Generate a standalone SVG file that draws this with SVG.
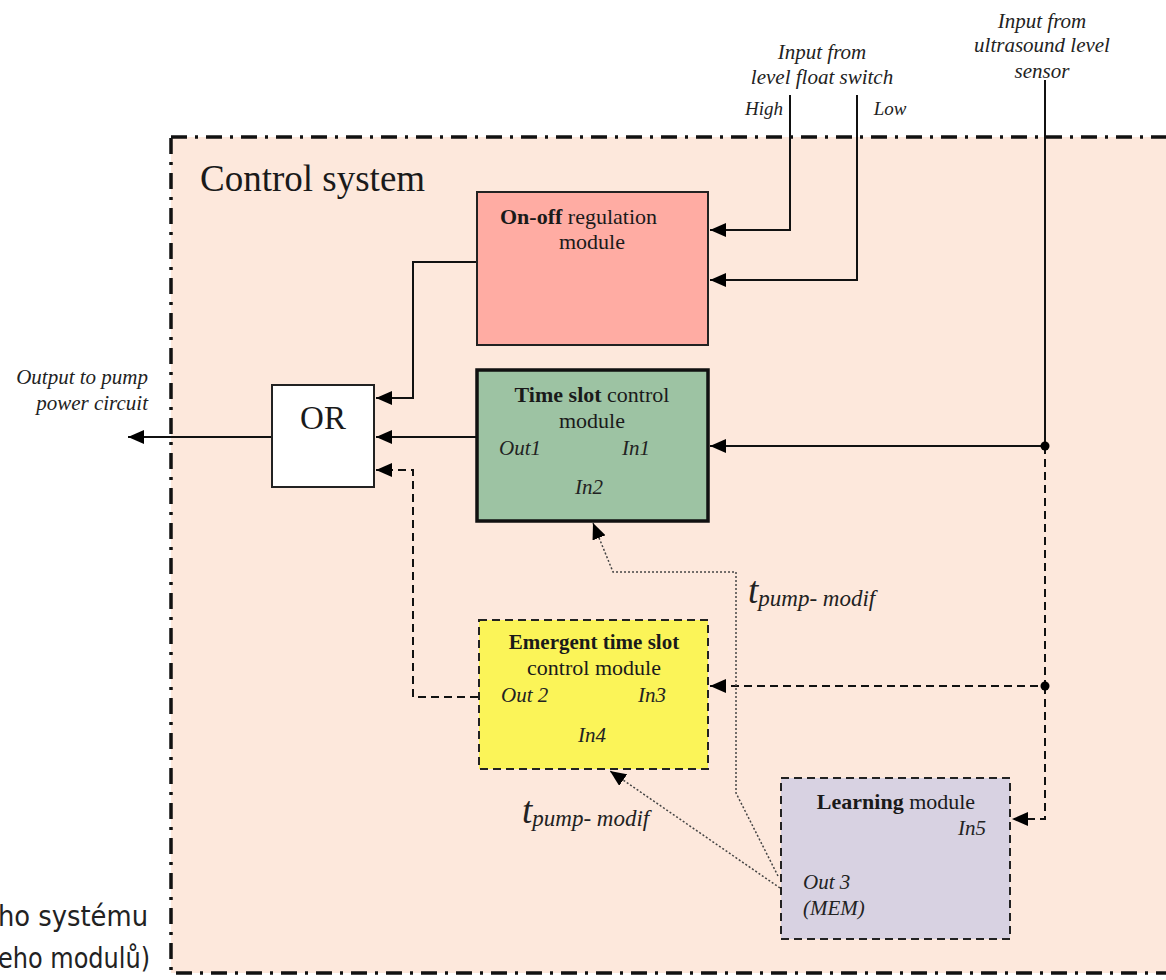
<svg xmlns="http://www.w3.org/2000/svg" width="1166" height="980" viewBox="0 0 1166 980">
<defs>
<style>
.t{font-family:"Liberation Serif","Times New Roman",serif;fill:#1a1a1a}
.i{font-family:"Liberation Serif","Times New Roman",serif;font-style:italic;fill:#222}
.b{font-weight:bold}
.box{stroke:#222;stroke-width:2}
.dash{stroke-dasharray:8 5}
.ln{fill:none;stroke:#111;stroke-width:2}
.dl{fill:none;stroke:#111;stroke-width:2;stroke-dasharray:8 5}
.dot{fill:none;stroke:#444;stroke-width:1.5;stroke-dasharray:2 2}
.cz{font-family:"DejaVu Sans Condensed","Roboto",sans-serif;font-stretch:condensed;fill:#222}
</style>
<marker id="ah" viewBox="0 0 16 14" markerWidth="16" markerHeight="14" refX="16" refY="7" orient="auto" markerUnits="userSpaceOnUse">
<path d="M0,0 L16,7 L0,14 z" fill="#000"/>
</marker>
</defs>
<rect width="1166" height="980" fill="#fff"/>
<g id="control-system">
<rect x="171" y="137" width="1010" height="836" fill="#fde8dc" stroke="#111" stroke-width="3.5" stroke-dasharray="16 8 3 8"/>
<text class="t" x="200" y="191" font-size="37">Control system</text>
</g>
<g id="labels">
<text class="i" x="822" y="59" font-size="21" text-anchor="middle">Input from</text>
<text class="i" x="822" y="84" font-size="21" text-anchor="middle">level float switch</text>
<text class="i" x="764" y="115" font-size="19" text-anchor="middle">High</text>
<text class="i" x="890" y="115" font-size="19" text-anchor="middle">Low</text>
<text class="i" x="1042" y="28" font-size="21" text-anchor="middle">Input from</text>
<text class="i" x="1042" y="52" font-size="21" text-anchor="middle">ultrasound level</text>
<text class="i" x="1042" y="78" font-size="21" text-anchor="middle">sensor</text>
<text class="i" x="148" y="384" font-size="21" text-anchor="end">Output to pump</text>
<text class="i" x="148" y="410" font-size="21" text-anchor="end">power circuit</text>
<text class="i" x="748" y="603" font-size="37">t<tspan font-size="23" dy="3">pump- modif</tspan></text>
<text class="i" x="522" y="823" font-size="37">t<tspan font-size="23" dy="3">pump- modif</tspan></text>
<text class="cz" x="148" y="926" font-size="28" text-anchor="end" textLength="150" lengthAdjust="spacingAndGlyphs">ho systému</text>
<text class="cz" x="150" y="968" font-size="28" text-anchor="end" textLength="152" lengthAdjust="spacingAndGlyphs">eho modulů)</text>
</g>
<g id="connectors">
<path class="ln" d="M790,95 V230 H710" marker-end="url(#ah)"/>
<path class="ln" d="M857,95 V280 H710" marker-end="url(#ah)"/>
<path class="ln" d="M1045,80 V446 H710" marker-end="url(#ah)"/>
<path class="ln" d="M477,262 H413 V398 H376" marker-end="url(#ah)"/>
<path class="ln" d="M477,437 H376" marker-end="url(#ah)"/>
<path class="ln" d="M272,437 H128" marker-end="url(#ah)"/>
<path class="dl" d="M1045,446 V686 H710" marker-end="url(#ah)"/>
<path class="dl" d="M1045,686 V819 H1012" marker-end="url(#ah)"/>
<path class="dl" d="M478,697 H413 V470 H376" marker-end="url(#ah)"/>
<path class="dot" d="M778,876 L736,793 V572 H613 L593,523" marker-end="url(#ah)"/>
<path class="dot" d="M780,888 L610,771" marker-end="url(#ah)"/>
<circle cx="1045" cy="446" r="4.5" fill="#000"/>
<circle cx="1045" cy="686" r="4.5" fill="#000"/>
</g>
<g id="on-off">
<rect class="box" x="477" y="192" width="231" height="153" fill="#ffaca3"/>
<text class="t" x="500" y="224" font-size="22"><tspan class="b">On-off</tspan> regulation</text>
<text class="t" x="592" y="249" font-size="22" text-anchor="middle">module</text>
</g>
<g id="or">
<rect class="box" x="272" y="385" width="102" height="102" fill="#fff"/>
<text class="t" x="323" y="429" font-size="33" text-anchor="middle">OR</text>
</g>
<g id="time-slot">
<rect x="477" y="370" width="231" height="151" fill="#9dc3a3" stroke="#111" stroke-width="3.5"/>
<text class="t" x="592" y="402" font-size="22" text-anchor="middle"><tspan class="b">Time slot</tspan> control</text>
<text class="t" x="592" y="428" font-size="22" text-anchor="middle">module</text>
<text class="i" x="499" y="455" font-size="21">Out1</text>
<text class="i" x="622" y="455" font-size="21">In1</text>
<text class="i" x="575" y="494" font-size="21">In2</text>
</g>
<g id="emergent">
<rect class="box dash" x="479" y="620" width="229" height="149" fill="#fbf458"/>
<text class="t b" x="594" y="649" font-size="21" text-anchor="middle">Emergent time slot</text>
<text class="t" x="594" y="675" font-size="22" text-anchor="middle">control module</text>
<text class="i" x="501" y="702" font-size="21">Out 2</text>
<text class="i" x="638" y="702" font-size="21">In3</text>
<text class="i" x="578" y="742" font-size="21">In4</text>
</g>
<g id="learning">
<rect class="box dash" x="781" y="778" width="229" height="161" fill="#d8d2e2"/>
<text class="t" x="896" y="809" font-size="22" text-anchor="middle"><tspan class="b">Learning</tspan> module</text>
<text class="i" x="958" y="835" font-size="21">In5</text>
<text class="i" x="803" y="889" font-size="21">Out 3</text>
<text class="i" x="803" y="915" font-size="21">(MEM)</text>
</g>
</svg>
